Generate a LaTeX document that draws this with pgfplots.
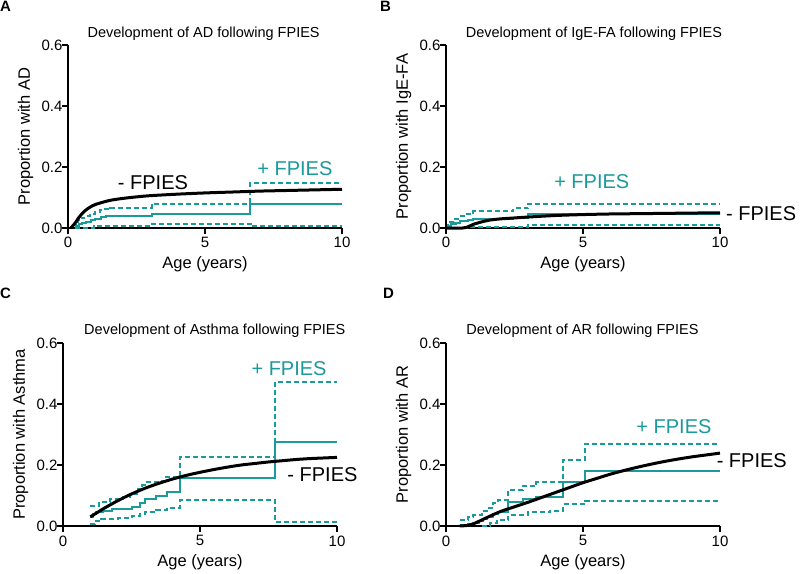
\documentclass[border=0pt]{standalone}
\usepackage{fontspec}
\setmainfont{Liberation Sans}
\usepackage{pgfplots}
\pgfplotsset{compat=1.18}
\usepackage{xcolor}
\definecolor{teal1}{HTML}{1A9A9A}

\newcommand{\tkf}{\fontsize{15bp}{17bp}\selectfont}
\pgfplotsset{
  panel/.style={
    scale only axis, width=274bp, height=183bp,
    xmin=0, xmax=10, ymin=0, ymax=0.6,
    axis x line=bottom, axis y line=left,
    axis line style={-, line width=2.5bp},
    every tick/.style={black, line width=2.5bp},
    tick align=outside, major tick length=6bp,
    xtick={0,5,10}, ytick={0,0.2,0.4,0.6},
    xticklabels={0,5,10},
    yticklabels={0.0,0.2,0.4,0.6},
    every x tick label/.append style={font=\tkf},
    every y tick label/.append style={font=\tkf, xshift=4bp},
    label style={font=\fontsize{16.5bp}{19bp}\selectfont},
    xlabel={Age (years)},
    xlabel style={at={(axis description cs:0.5,-0.2)}, anchor=center},
    ylabel style={at={(axis description cs:-0.155,0.5)}, anchor=center},
    clip=false,
  },
  blk/.style={black, line width=3bp, smooth},
  tsol/.style={teal1, line width=2bp, const plot},
  tdash/.style={teal1, line width=2bp, const plot, dash pattern=on 5bp off 3bp},
}
\newcommand{\ttl}{\fontsize{14.5bp}{17bp}\selectfont}
\newcommand{\ann}{\fontsize{20bp}{22bp}\selectfont}

\begin{document}
\begin{tikzpicture}
\useasboundingbox (0bp,0bp) rectangle (800bp,-574bp);

% panel letters
\node[anchor=north west, inner sep=0, font=\fontsize{15bp}{17bp}\selectfont\bfseries] at (0bp,-1bp) {A};
\node[anchor=north west, inner sep=0, font=\fontsize{15bp}{17bp}\selectfont\bfseries] at (380bp,-1bp) {B};
\node[anchor=north west, inner sep=0, font=\fontsize{15bp}{17bp}\selectfont\bfseries] at (0bp,-288bp) {C};
\node[anchor=north west, inner sep=0, font=\fontsize{15bp}{17bp}\selectfont\bfseries] at (383bp,-288bp) {D};

% ---------- A: AD ----------
\begin{axis}[panel, at={(68bp,-228bp)}, anchor=origin, ylabel={Proportion with AD}]
\addplot[tdash] coordinates {(0.25,0) (0.95,0.005) (3.05,0.014) (6.7,0.007) (10,0.007)};
\addplot[tdash] coordinates {(0.25,0) (0.28,0.015) (0.35,0.025) (0.45,0.033) (0.6,0.04) (0.8,0.046) (1.0,0.052) (1.15,0.058) (1.35,0.063) (1.55,0.067) (3.05,0.08) (6.65,0.147) (10,0.147)};
\addplot[tsol] coordinates {(0.25,0) (0.3,0.008) (0.4,0.014) (0.5,0.018) (0.65,0.021) (0.85,0.026) (1.0,0.031) (1.2,0.035) (1.4,0.038) (1.6,0.04) (3.05,0.047) (6.65,0.08) (10,0.08)};
\addplot[blk] coordinates {(0.1,0) (0.25,0.015) (0.4,0.035) (0.6,0.055) (0.8,0.068) (1.0,0.077) (1.5,0.09) (2,0.097) (2.5,0.102) (3,0.106) (4,0.111) (5,0.115) (6,0.118) (7,0.121) (8,0.123) (9,0.125) (10,0.127)};
\node[font=\ttl] at (rel axis cs:0.495,1.064) {Development of AD following FPIES};
\node[font=\ann] at (axis cs:3.1,0.149) {- FPIES};
\node[font=\ann, text=teal1] at (axis cs:8.28,0.196) {+ FPIES};
\end{axis}

% ---------- B: IgE-FA ----------
\begin{axis}[panel, at={(446bp,-228bp)}, anchor=origin, ylabel={Proportion with IgE-FA}]
\addplot[tdash] coordinates {(0.05,0) (0.85,0.004) (3.0,0.011) (10,0.011)};
\addplot[tdash] coordinates {(0.05,0) (0.08,0.01) (0.15,0.02) (0.3,0.03) (0.5,0.038) (0.7,0.045) (0.9,0.05) (1.0,0.055) (2.45,0.065) (3.0,0.08) (10,0.08)};
\addplot[tsol] coordinates {(0.05,0) (0.1,0.008) (0.2,0.013) (0.35,0.018) (0.5,0.023) (0.8,0.027) (1.0,0.03) (2.45,0.034) (3.0,0.047) (10,0.047)};
\addplot[blk] coordinates {(0,0) (0.6,0) (0.8,0.004) (1.0,0.012) (1.3,0.02) (1.6,0.026) (2,0.03) (2.5,0.033) (3,0.036) (4,0.041) (5,0.044) (6,0.046) (7,0.047) (8,0.048) (9,0.049) (10,0.05)};
\node[font=\ttl] at (rel axis cs:0.54,1.064) {Development of IgE-FA following FPIES};
\node[font=\ann, text=teal1] at (axis cs:5.32,0.152) {+ FPIES};
\node[font=\ann] at (axis cs:11.5,0.048) {- FPIES};
\end{axis}

% ---------- C: Asthma ----------
\begin{axis}[panel, at={(63bp,-526bp)}, anchor=origin, ylabel={Proportion with Asthma}]
\addplot[tdash] coordinates {(1.0,0.005) (1.15,0.015) (1.4,0.022) (2.0,0.027) (2.5,0.032) (2.8,0.04) (3.0,0.047) (3.4,0.053) (3.8,0.06) (4.27,0.085) (7.74,0.014) (10,0.014)};
\addplot[tdash] coordinates {(1.0,0.064) (1.3,0.08) (1.7,0.088) (2.2,0.095) (2.45,0.105) (2.7,0.12) (2.9,0.135) (3.0,0.145) (3.5,0.148) (3.75,0.16) (4.27,0.227) (7.74,0.472) (10,0.472)};
\addplot[tsol] coordinates {(1.0,0.03) (1.08,0.04) (1.2,0.047) (1.45,0.05) (1.8,0.055) (2.5,0.063) (2.8,0.076) (3.0,0.09) (3.4,0.098) (3.78,0.111) (4.27,0.156) (7.74,0.276) (10,0.276)};
\addplot[blk] coordinates {(1,0.03) (1.5,0.058) (2,0.083) (2.5,0.105) (3,0.124) (3.5,0.14) (4,0.154) (4.5,0.166) (5,0.176) (5.5,0.185) (6,0.193) (6.5,0.2) (7,0.205) (7.5,0.21) (8,0.214) (8.5,0.218) (9,0.221) (9.5,0.223) (10,0.225)};
\node[font=\ttl] at (rel axis cs:0.554,1.066) {Development of Asthma following FPIES};
\node[font=\ann, text=teal1] at (axis cs:8.25,0.517) {+ FPIES};
\node[font=\ann] at (axis cs:9.47,0.167) {- FPIES};
\end{axis}

% ---------- D: AR ----------
\begin{axis}[panel, at={(446bp,-526bp)}, anchor=origin, ylabel={Proportion with AR}]
\addplot[tdash] coordinates {(1.3,0) (1.6,0.01) (1.85,0.02) (2.27,0.036) (3.0,0.045) (3.8,0.05) (4.28,0.072) (5.08,0.081) (10,0.081)};
\addplot[tdash] coordinates {(0.5,0.02) (0.8,0.028) (1.0,0.035) (1.3,0.048) (1.5,0.06) (1.7,0.075) (1.9,0.085) (2.27,0.118) (2.8,0.13) (3.3,0.143) (4.28,0.216) (5.08,0.268) (10,0.268)};
\addplot[tsol] coordinates {(0.5,0.002) (0.8,0.006) (1.0,0.01) (1.2,0.016) (1.35,0.022) (1.5,0.03) (1.7,0.04) (1.9,0.047) (2.27,0.08) (2.8,0.087) (3.3,0.095) (4.28,0.145) (5.08,0.181) (10,0.181)};
\addplot[blk] coordinates {(0.5,0) (0.8,0.002) (1,0.007) (1.5,0.028) (2,0.048) (2.5,0.063) (3,0.078) (3.5,0.094) (4,0.11) (4.5,0.126) (5,0.142) (5.5,0.156) (6,0.17) (6.5,0.182) (7,0.193) (7.5,0.203) (8,0.212) (8.5,0.22) (9,0.227) (9.5,0.233) (10,0.239)};
\node[font=\ttl] at (rel axis cs:0.498,1.066) {Development of AR following FPIES};
\node[font=\ann, text=teal1] at (axis cs:8.32,0.326) {+ FPIES};
\node[font=\ann] at (axis cs:11.16,0.216) {- FPIES};
\end{axis}
\end{tikzpicture}
\end{document}
